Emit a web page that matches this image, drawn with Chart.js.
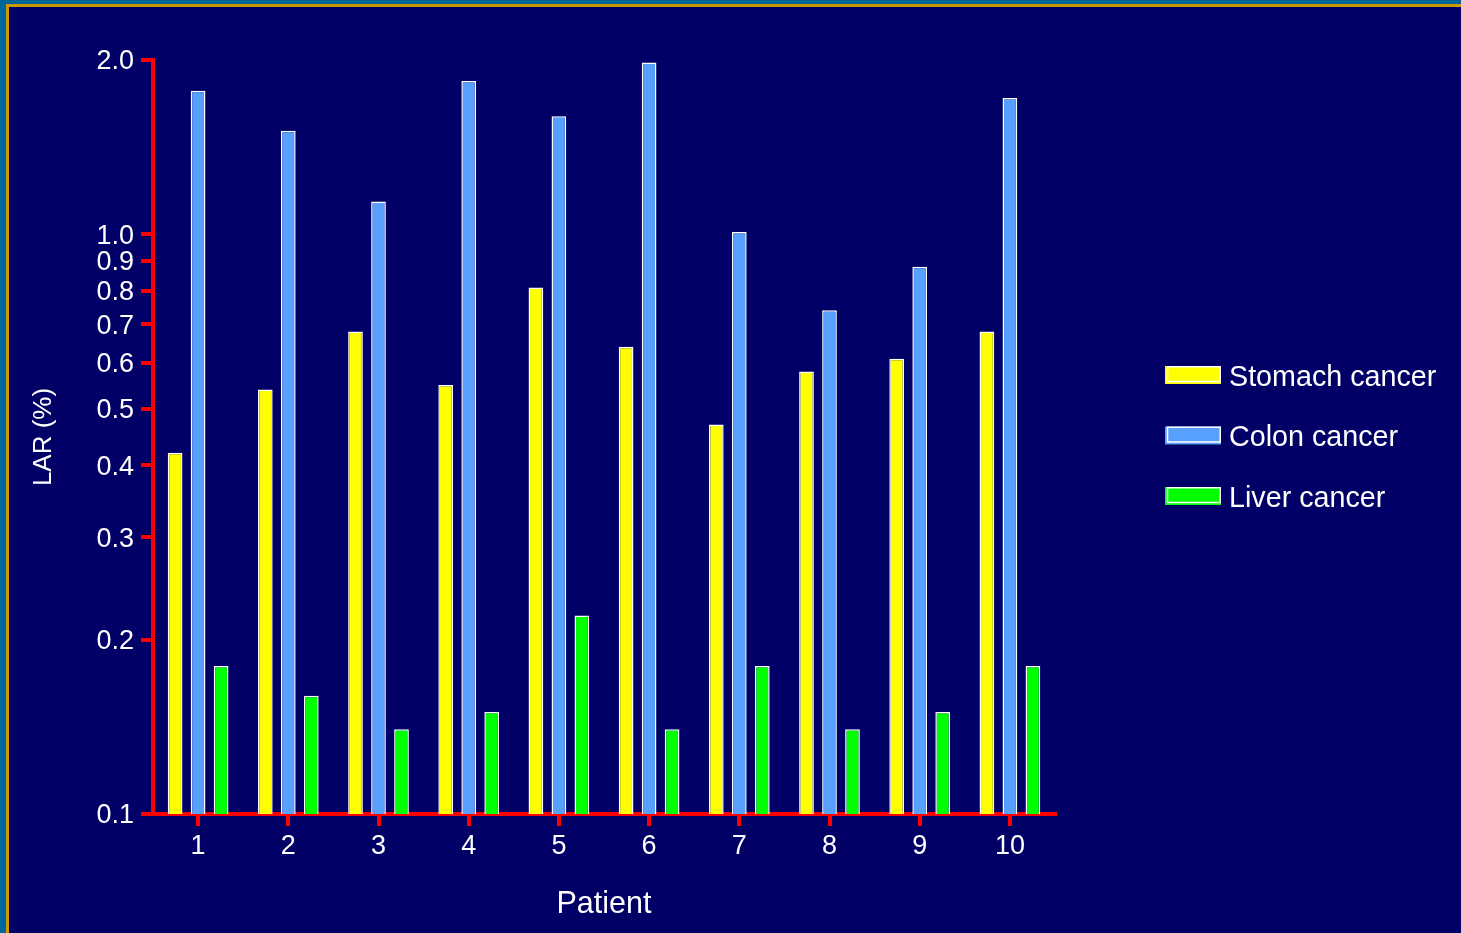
<!DOCTYPE html>
<html>
<head>
<meta charset="utf-8">
<title>LAR by patient</title>
<script src="https://cdn.jsdelivr.net/npm/chart.js@4.4.1/dist/chart.umd.min.js"></script>
<style>
  html, body { margin: 0; padding: 0; background: #006699; overflow: hidden; }
  canvas { display: block; }
</style>
</head>
<body>
<canvas id="chart" width="1461" height="933"></canvas>
<script>
// Lifetime attributable risk (%) per patient, by cancer site
const patients = ['1', '2', '3', '4', '5', '6', '7', '8', '9', '10'];
const stomach = [0.42, 0.54, 0.68, 0.55, 0.81, 0.64, 0.47, 0.58, 0.61, 0.68];
const colon   = [1.77, 1.51, 1.14, 1.84, 1.60, 1.98, 1.01, 0.74, 0.88, 1.72];
const liver   = [0.18, 0.16, 0.14, 0.15, 0.22, 0.14, 0.18, 0.14, 0.15, 0.18];
const yTicks  = [0.1, 0.2, 0.3, 0.4, 0.5, 0.6, 0.7, 0.8, 0.9, 1.0, 2.0];

const NAVY = '#000066';
const AXIS = '#ff0000';
const TEXT = '#ffffff';
const FONT = '"Liberation Sans", Arial, sans-serif';

// Slide frame: teal edge, gold rule, navy panel
const framePlugin = {
  id: 'frame',
  beforeDraw(chart) {
    const { ctx, width, height } = chart;
    ctx.save();
    ctx.fillStyle = '#006699';
    ctx.fillRect(0, 0, width, height);
    ctx.fillStyle = '#cc9900';
    ctx.fillRect(6, 4, width - 6, height - 4);
    ctx.fillStyle = NAVY;
    ctx.fillRect(9, 7, width - 9, height - 7);
    ctx.restore();
  }
};

// Legend to the right of the plot, one swatch per dataset
const sideLegend = {
  id: 'sideLegend',
  afterDraw(chart) {
    const { ctx } = chart;
    const x = 1165, w = 56, h = 18;
    const firstY = 375, step = 60.5;
    ctx.save();
    ctx.font = '28.7px ' + FONT;
    ctx.textBaseline = 'middle';
    ctx.textAlign = 'left';
    chart.data.datasets.forEach((ds, i) => {
      const cy = firstY + i * step;
      const y = cy - h / 2;
      ctx.fillStyle = ds.backgroundColor;
      ctx.fillRect(x, y, w, h);
      ctx.strokeStyle = '#ffffff';
      ctx.lineWidth = 1.5;
      ctx.strokeRect(x + 2.5, y + 0.75, w - 3.25, h - 3.25);
      ctx.fillStyle = TEXT;
      ctx.fillText(ds.label, x + 64, cy + 3);
    });
    ctx.restore();
  }
};

const barStyle = {
  borderColor: '#ffffff',
  borderWidth: 1.5,
  borderSkipped: 'start',
  categoryPercentage: 0.765,
  barPercentage: 0.64
};

new Chart(document.getElementById('chart'), {
  type: 'bar',
  data: {
    labels: patients,
    datasets: [
      Object.assign({ label: 'Stomach cancer', data: stomach, backgroundColor: '#ffff00' }, barStyle),
      Object.assign({ label: 'Colon cancer', data: colon, backgroundColor: '#58a0ff' }, barStyle),
      Object.assign({ label: 'Liver cancer', data: liver, backgroundColor: '#00ff00' }, barStyle)
    ]
  },
  options: {
    responsive: false,
    animation: false,
    devicePixelRatio: 1,
    layout: { padding: { left: 0, top: 60, right: 406, bottom: 0 } },
    plugins: {
      legend: { display: false },
      tooltip: { enabled: false }
    },
    scales: {
      x: {
        type: 'category',
        offset: true,
        afterFit(scale) { scale.height = 119; },
        border: { display: true, color: AXIS, width: 4 },
        grid: {
          display: true,
          offset: false,
          drawOnChartArea: false,
          drawTicks: true,
          tickLength: 12,
          color: AXIS,
          lineWidth: 4
        },
        ticks: {
          color: TEXT,
          font: { family: FONT, size: 27 },
          padding: 4,
          maxRotation: 0
        },
        title: {
          display: true,
          text: 'Patient',
          color: TEXT,
          font: { family: FONT, size: 30.5 },
          padding: { top: 0, bottom: 10 }
        }
      },
      y: {
        type: 'logarithmic',
        min: 0.1,
        max: 2.0,
        afterFit(scale) { scale.width = 153; },
        afterBuildTicks(scale) {
          scale.ticks = yTicks.map(v => ({ value: v }));
        },
        border: { display: true, color: AXIS, width: 4 },
        grid: {
          display: true,
          drawOnChartArea: false,
          drawTicks: true,
          tickLength: 12,
          color: AXIS,
          lineWidth: 4
        },
        ticks: {
          color: TEXT,
          font: { family: FONT, size: 27 },
          padding: 7,
          labelOffset: 2,
          autoSkip: false,
          callback: v => Number(v).toFixed(1)
        },
        title: {
          display: true,
          text: 'LAR (%)',
          color: TEXT,
          font: { family: FONT, size: 26 },
          padding: { top: 28, bottom: 0 }
        }
      }
    }
  },
  plugins: [framePlugin, sideLegend]
});
</script>
</body>
</html>
